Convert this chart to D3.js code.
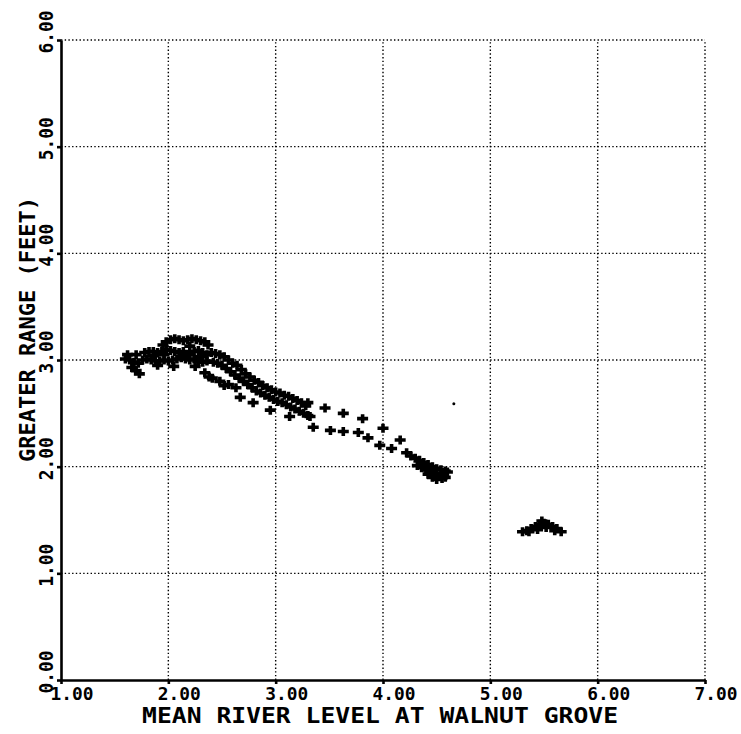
<!DOCTYPE html>
<html lang="en">
<head>
<meta charset="utf-8">
<title>Greater range vs mean river level</title>
<script src="https://d3js.org/d3.v7.min.js"></script>
<style>
  body { margin: 0; background: #fff; }
  svg { display: block; background: #fff; }
  text { font-family: "DejaVu Sans Mono", "Liberation Mono", monospace; font-weight: bold; fill: #000; }
  .grid line { stroke: #000; stroke-width: 1.4; stroke-dasharray: 1.4,2.3; }
  .axis path, .axis line { stroke: #000; stroke-width: 2.6; }
  .mark { stroke: #000; stroke-width: 3.6; fill: none; stroke-linecap: butt; }
</style>
</head>
<body>
<svg width="741" height="734"></svg>
<script>
// axis ticks
var xTicks = [1, 2, 3, 4, 5, 6, 7];
var yTicks = [0, 1, 2, 3, 4, 5, 6];
var xTitle = 'MEAN RIVER LEVEL AT WALNUT GROVE';
var yTitle = 'GREATER RANGE (FEET)';

// points: [river level, greater range]
// dense cluster near 2 ft
var topCluster = [
  [1.60, 3.01], [1.64, 3.00], [1.68, 2.98], [1.72, 2.97], [1.76, 3.00], [1.80, 3.01],
  [1.84, 3.00], [1.88, 2.99], [1.92, 2.99], [1.96, 3.00], [2.00, 2.99], [2.04, 3.00],
  [2.08, 3.01], [2.12, 3.02], [2.16, 3.01], [2.20, 3.00], [2.24, 3.01], [2.28, 2.99],
  [2.32, 2.98], [2.36, 2.99],
  [1.62, 3.05], [1.70, 3.05], [1.78, 3.07], [1.82, 3.08], [1.86, 3.08], [1.90, 3.07],
  [1.94, 3.08], [1.98, 3.10], [2.02, 3.09], [2.06, 3.08], [2.10, 3.07], [2.14, 3.08],
  [2.24, 3.08], [2.28, 3.09], [2.32, 3.07], [2.36, 3.05],
  [1.98, 3.17], [2.02, 3.19], [2.06, 3.20], [2.10, 3.19], [2.14, 3.18], [2.18, 3.19],
  [2.22, 3.20], [2.26, 3.19], [2.30, 3.18], [2.34, 3.17], [2.37, 3.14],
  [1.66, 2.93], [1.70, 2.90], [1.73, 2.87], [1.90, 2.95], [2.05, 2.94], [2.25, 2.94],
  [1.86, 3.04], [1.96, 3.05], [2.18, 3.05], [2.30, 3.03], [1.95, 3.14], [2.20, 3.13]
];

// dense band falling away from the cluster
var bandDense = [
  [2.40, 3.07], [2.44, 3.06], [2.48, 3.05], [2.52, 3.03], [2.56, 3.00], [2.60, 2.97],
  [2.64, 2.95], [2.68, 2.91], [2.72, 2.87], [2.76, 2.84], [2.80, 2.81], [2.84, 2.79],
  [2.88, 2.76], [2.92, 2.74], [2.96, 2.72], [3.00, 2.70], [3.04, 2.69], [3.08, 2.67],
  [3.12, 2.66], [3.16, 2.64], [3.20, 2.62], [3.24, 2.60], [3.28, 2.57],
  [2.42, 2.98], [2.46, 2.97], [2.50, 2.95], [2.54, 2.92], [2.58, 2.89], [2.62, 2.86],
  [2.66, 2.83], [2.70, 2.80], [2.74, 2.77], [2.78, 2.74], [2.82, 2.71], [2.86, 2.69],
  [2.90, 2.67], [2.94, 2.65], [2.98, 2.63], [3.02, 2.61], [3.06, 2.60], [3.10, 2.58],
  [3.14, 2.56], [3.18, 2.54], [3.22, 2.52], [3.26, 2.50], [3.30, 2.48]
];

// loose crosses
var sparsePts = [
  [2.34, 2.88], [2.41, 2.83], [2.48, 2.80], [2.56, 2.77], [2.63, 2.74], [2.67, 2.65],
  [2.79, 2.60], [2.95, 2.53], [3.13, 2.47], [3.32, 2.47], [3.35, 2.37], [3.51, 2.34],
  [3.63, 2.33], [3.77, 2.32], [3.86, 2.27], [3.97, 2.20], [4.08, 2.17], [4.22, 2.13],
  [3.30, 2.60], [3.46, 2.55], [3.63, 2.50], [3.81, 2.45], [4.00, 2.36], [4.16, 2.25],
  [2.38, 2.84], [2.52, 2.76]
];

// cluster at the end of the band
var endCluster = [
  [4.26, 2.10], [4.30, 2.08], [4.34, 2.06], [4.38, 2.04], [4.42, 2.02], [4.46, 2.00],
  [4.50, 1.98], [4.54, 1.97], [4.58, 1.96], [4.60, 1.95],
  [4.32, 2.01], [4.36, 1.99], [4.40, 1.97], [4.44, 1.95], [4.48, 1.93], [4.52, 1.91],
  [4.55, 1.89], [4.58, 1.90], [4.50, 1.88], [4.46, 1.90], [4.42, 1.93], [4.56, 1.93]
];

// separate group near 5.5
var farCluster = [
  [5.30, 1.39], [5.34, 1.40], [5.38, 1.42], [5.42, 1.44], [5.46, 1.46], [5.50, 1.47],
  [5.54, 1.46], [5.58, 1.44], [5.62, 1.42], [5.66, 1.39],
  [5.36, 1.39], [5.44, 1.41], [5.52, 1.43], [5.60, 1.40], [5.48, 1.49]
];

var strayPts = [[4.66, 2.59]];

var svg = d3.select('svg');

var x = d3.scaleLinear().domain([1, 7]).range([61, 705]);
var y = d3.scaleLinear().domain([0, 6]).range([680, 40]);

// dotted grid
var grid = svg.append('g').attr('class', 'grid');
grid.selectAll('line.v')
  .data(xTicks.slice(1))
  .enter().append('line')
  .attr('class', 'v')
  .attr('x1', function(d) { return x(d); })
  .attr('x2', function(d) { return x(d); })
  .attr('y1', y(0))
  .attr('y2', y(6));
grid.selectAll('line.h')
  .data(yTicks.slice(1))
  .enter().append('line')
  .attr('class', 'h')
  .attr('x1', x(1))
  .attr('x2', x(7))
  .attr('y1', function(d) { return y(d); })
  .attr('y2', function(d) { return y(d); });

// axes
var xAxis = svg.append('g')
  .attr('class', 'axis')
  .attr('transform', 'translate(0,' + y(0) + ')')
  .call(d3.axisBottom(x).tickValues(xTicks).tickSize(4).tickSizeOuter(0)
    .tickFormat(function(d) { return d.toFixed(2); }));
xAxis.selectAll('text')
  .attr('x', -11)
  .attr('y', 20)
  .attr('dy', null)
  .attr('text-anchor', 'start')
  .attr('font-size', 17)
  .attr('textLength', 43)
  .attr('lengthAdjust', 'spacingAndGlyphs');

var yAxis = svg.append('g')
  .attr('class', 'axis')
  .attr('transform', 'translate(' + x(1) + ',0)')
  .call(d3.axisLeft(y).tickValues(yTicks).tickSize(4).tickSizeOuter(0)
    .tickFormat(function(d) { return d.toFixed(2); }));
yAxis.selectAll('text')
  .attr('x', 0)
  .attr('y', 0)
  .attr('dy', null)
  .attr('text-anchor', 'start')
  .attr('transform', 'translate(-8,13) rotate(-90)')
  .attr('font-size', 20)
  .attr('textLength', 43)
  .attr('lengthAdjust', 'spacingAndGlyphs');

// axis titles
svg.append('text')
  .attr('x', 142)
  .attr('y', 723)
  .attr('font-size', 22)
  .attr('textLength', 476)
  .attr('lengthAdjust', 'spacingAndGlyphs')
  .text(xTitle);

svg.append('text')
  .attr('transform', 'translate(35,462) rotate(-90)')
  .attr('font-size', 21)
  .attr('textLength', 265)
  .attr('lengthAdjust', 'spacingAndGlyphs')
  .text(yTitle);

// plus markers
var plus = 'M-5.5,0H5.5M0,-4.5V4.5';
var allPts = topCluster.concat(bandDense, sparsePts, endCluster, farCluster);

svg.append('g')
  .selectAll('path')
  .data(allPts)
  .enter().append('path')
  .attr('class', 'mark')
  .attr('d', plus)
  .attr('transform', function(d) { return 'translate(' + x(d[0]) + ',' + y(d[1]) + ')'; });

svg.append('g')
  .selectAll('circle')
  .data(strayPts)
  .enter().append('circle')
  .attr('r', 1.5)
  .attr('cx', function(d) { return x(d[0]); })
  .attr('cy', function(d) { return y(d[1]); })
  .attr('fill', '#000');
</script>
</body>
</html>
